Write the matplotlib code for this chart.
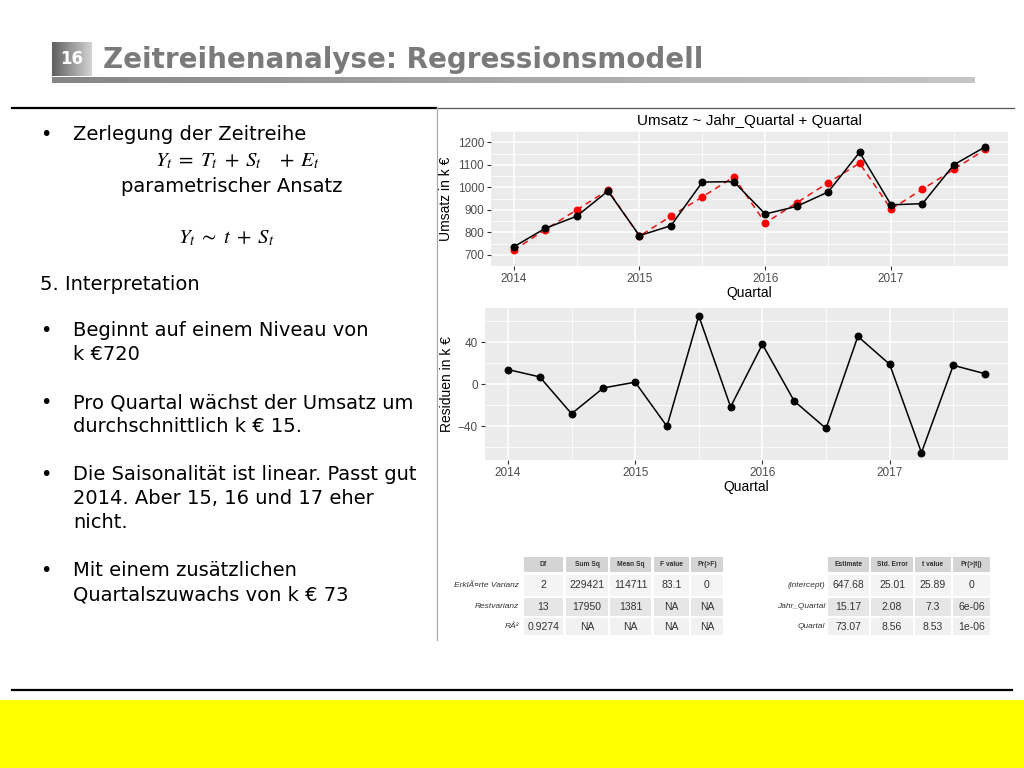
import numpy as np
import matplotlib
matplotlib.use('Agg')
from matplotlib import pyplot as plt
from matplotlib.patches import Rectangle
from matplotlib.colors import LinearSegmentedColormap

# Quartale (x), Umsatz, Modellwerte und Residuen
quartal = [2014.0, 2014.25, 2014.5, 2014.75, 2015.0, 2015.25, 2015.5, 2015.75,
           2016.0, 2016.25, 2016.5, 2016.75, 2017.0, 2017.25, 2017.5, 2017.75]
umsatz = [735, 817, 871, 983, 785, 829, 1023, 1025, 881, 915, 979, 1155, 922, 927, 1100, 1180]
modell = [720, 811, 899, 987, 783, 871, 957, 1046, 841, 931, 1020, 1107, 903, 991, 1080, 1168]
residuen = [14, 7, -28, -3.5, 2, -40, 65, -21.5, 38, -16, -42, 45.5, 19, -65, 18, 10]
jahr_ticks = [2014, 2015, 2016, 2017]
umsatz_ticks = [700, 800, 900, 1000, 1100, 1200]
resid_ticks = [-40, 0, 40]

anova_cols = ['Df', 'Sum Sq', 'Mean Sq', 'F value', 'Pr(>F)']
anova_rows = ['ErklÃ¤rte Varianz', 'Restvarianz', 'RÂ²']
anova_vals = [['2', '229421', '114711', '83.1', '0'],
              ['13', '17950', '1381', 'NA', 'NA'],
              ['0.9274', 'NA', 'NA', 'NA', 'NA']]

coef_cols = ['Estimate', 'Std. Error', 't value', 'Pr(>|t|)']
coef_rows = ['(intercept)', 'Jahr_Quartal', 'Quartal']
coef_vals = [['647.68', '25.01', '25.89', '0'],
             ['15.17', '2.08', '7.3', '6e-06'],
             ['73.07', '8.56', '8.53', '1e-06']]

W, H = 1024, 768
plt.rcParams['mathtext.fontset'] = 'stix'
fig = plt.figure(figsize=(W / 100, H / 100), dpi=100)
fig.patch.set_facecolor('white')

# background axes in pixel coordinates
bg = fig.add_axes([0, 0, 1, 1])
bg.set_xlim(0, W)
bg.set_ylim(H, 0)
bg.axis('off')

# header: number box and gradient bar
grad = np.linspace(0, 1, 256).reshape(1, -1)
box_cm = LinearSegmentedColormap.from_list('box', ['#5e5e5e', '#9a9a9a', '#d4d4d4'])
bar_cm = LinearSegmentedColormap.from_list('bar', ['#858585', '#a8a8a8', '#c6c6c6'])
bg.imshow(grad, cmap=box_cm, extent=[52, 92, 76, 42], aspect='auto')
bg.text(72, 59, '16', color='white', fontsize=12, fontweight='bold', ha='center', va='center')
bg.text(103, 60, 'Zeitreihenanalyse: Regressionsmodell', color='#7a7a7a', fontsize=20,
        fontweight='bold', ha='left', va='center')
bg.imshow(grad, cmap=bar_cm, extent=[52, 975, 83, 77], aspect='auto')
bg.set_xlim(0, W)
bg.set_ylim(H, 0)

# separator lines
bg.plot([12, 436], [108, 108], color='black', lw=1.6)
bg.plot([436, 1014], [108, 108], color='#555555', lw=0.9)
bg.plot([437, 437], [108, 640], color='#aaaaaa', lw=0.9)
bg.plot([12, 1012], [690, 690], color='black', lw=1.6)
bg.add_patch(Rectangle((0, 700), W, 68, facecolor='#ffff00', edgecolor='none'))

# left text block
txt = dict(fontsize=14, color='black', va='center', family='DejaVu Sans')
bullet_y = [135, 331, 403, 475, 571]
for by in bullet_y:
    bg.text(40, by, '•', **txt)
lines = [(135, 'Zerlegung der Zeitreihe'),
         (331, 'Beginnt auf einem Niveau von'), (355, 'k €720'),
         (403, 'Pro Quartal wächst der Umsatz um'), (427, 'durchschnittlich k € 15.'),
         (475, 'Die Saisonalität ist linear. Passt gut'), (498, '2014. Aber 15, 16 und 17 eher'),
         (522, 'nicht.'),
         (571, 'Mit einem zusätzlichen'), (595, 'Quartalszuwachs von k € 73')]
for ly, s in lines:
    bg.text(73, ly, s, **txt)
bg.text(40, 284, '5. Interpretation', **txt)
bg.text(237, 161, r'$Y_t\;=\;T_t\;+\;S_t\quad+\;E_t$', fontsize=15, ha='center', va='center')
bg.text(232, 186, 'parametrischer Ansatz', ha='center', **txt)
bg.text(226, 238, r'$Y_t\;\sim\;t\;+\;S_t$', fontsize=15, ha='center', va='center')


def gg_style(ax, yticks, ylabel):
    ax.set_facecolor('#ebebeb')
    for sp in ax.spines.values():
        sp.set_visible(False)
    ax.set_xticks(jahr_ticks)
    ax.set_yticks(yticks)
    xmin = [t + 0.5 for t in jahr_ticks]
    step = yticks[1] - yticks[0]
    ymin = [t + step / 2 for t in yticks] + [yticks[0] - step / 2]
    ax.set_xticks(xmin, minor=True)
    ax.set_yticks(ymin, minor=True)
    ax.grid(True, which='major', color='white', lw=1.1)
    ax.grid(True, which='minor', color='white', lw=0.55)
    ax.set_axisbelow(True)
    ax.tick_params(which='major', length=3, color='#333333', labelsize=8.5,
                   labelcolor='#4d4d4d', pad=2)
    ax.tick_params(which='minor', length=0)
    for lab in ax.get_xticklabels() + ax.get_yticklabels():
        lab.set_family('Liberation Sans')
    ax.set_xlabel('Quartal', fontsize=10, family='Liberation Sans', labelpad=1)
    ax.set_ylabel(ylabel, fontsize=10, family='Liberation Sans', labelpad=3)
    ax.set_xlim(2013.82, 2017.93)


def px_axes(x0, y0, x1, y1):
    return fig.add_axes([x0 / W, 1 - y1 / H, (x1 - x0) / W, (y1 - y0) / H])


# top chart
ax1 = px_axes(491, 131, 1008, 266)
ax1.plot(quartal, modell, color='#ee1111', lw=1.1, ls=(0, (4, 3)), zorder=2)
ax1.scatter(quartal, modell, color='#ff0000', s=22, zorder=3)
ax1.plot(quartal, umsatz, color='black', lw=1.1, zorder=4)
ax1.scatter(quartal, umsatz, color='black', s=22, zorder=5)
ax1.set_ylim(697, 1205)
gg_style(ax1, umsatz_ticks, 'Umsatz in k €')
ax1.set_title('Umsatz ~ Jahr_Quartal + Quartal', fontsize=11, family='Liberation Sans', pad=4)

# residual chart
ax2 = px_axes(485, 308, 1008, 460)
ax2.plot(quartal, residuen, color='black', lw=1.1, zorder=4)
ax2.scatter(quartal, residuen, color='black', s=22, zorder=5)
ax2.set_ylim(-72, 72.5)
gg_style(ax2, resid_ticks, 'Residuen in k €')


# tables
def draw_table(cols, rows, vals, label_x, col_edges):
    row_edges = [(557, 572), (575, 596), (598, 616), (618, 635)]
    head_c = '#d4d4d4'
    body_c = ['#f4f4f4', '#e6e6e6', '#f1f1f1']
    for j, name in enumerate(cols):
        x0, x1 = col_edges[j]
        y0, y1 = row_edges[0]
        bg.add_patch(Rectangle((x0, y0), x1 - x0, y1 - y0, facecolor=head_c, edgecolor='none'))
        bg.text((x0 + x1) / 2, (y0 + y1) / 2, name, fontsize=4.8, fontweight='bold',
                ha='center', va='center', family='Liberation Sans', color='#333333')
    for i, rname in enumerate(rows):
        y0, y1 = row_edges[i + 1]
        bg.text(label_x, (y0 + y1) / 2, rname, fontsize=6, style='italic', ha='right',
                va='center', family='Liberation Sans', color='#333333')
        for j in range(len(cols)):
            x0, x1 = col_edges[j]
            bg.add_patch(Rectangle((x0, y0), x1 - x0, y1 - y0, facecolor=body_c[i],
                                   edgecolor='none'))
            bg.text((x0 + x1) / 2, (y0 + y1) / 2, vals[i][j], fontsize=7.5, ha='center',
                    va='center', family='Liberation Sans', color='#333333')


draw_table(anova_cols, anova_rows, anova_vals, 519,
           [(524, 563), (566, 608), (610, 651), (654, 689), (691, 723)])
draw_table(coef_cols, coef_rows, coef_vals, 825,
           [(828, 869), (871, 913), (915, 951), (953, 990)])

fig.savefig('out.png', dpi=100, facecolor='white')
